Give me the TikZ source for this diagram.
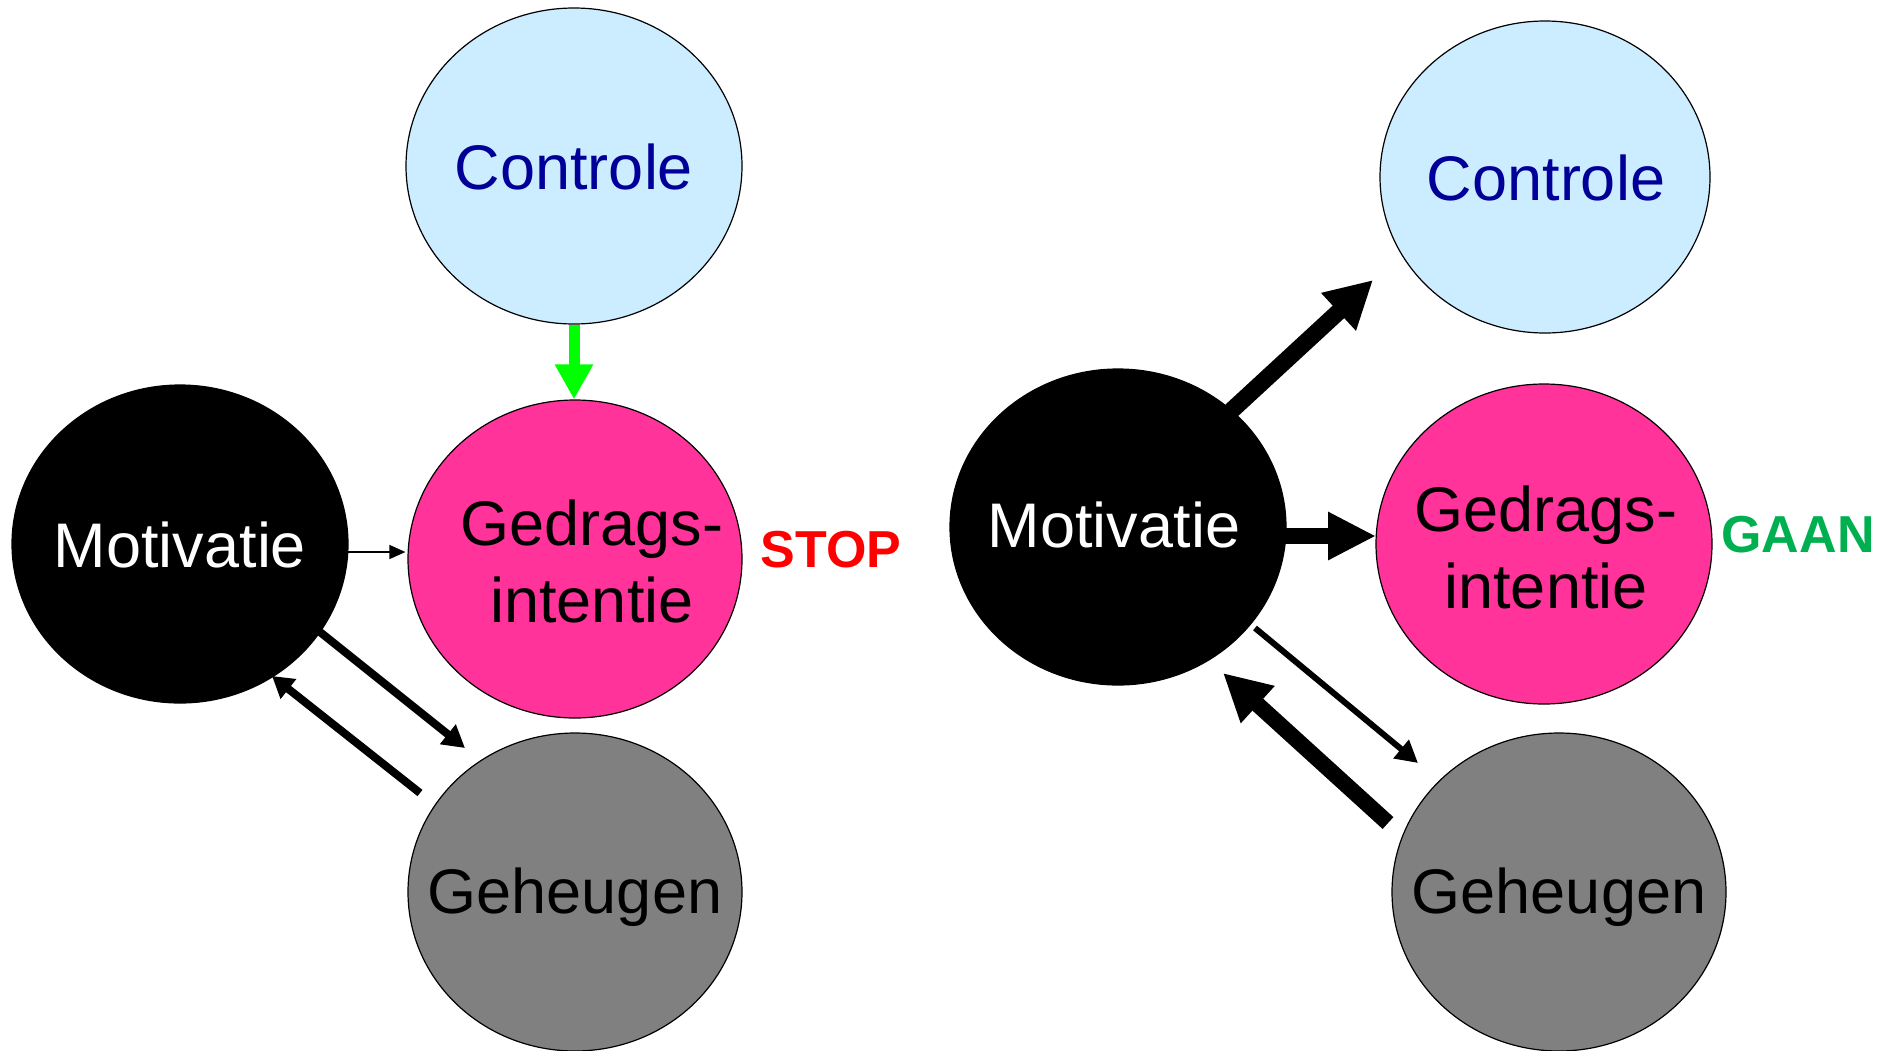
\documentclass[tikz,border=0pt]{standalone}
\usepackage{fontspec}
\setmainfont{Liberation Sans}
\usetikzlibrary{shapes.geometric,arrows.meta}
\definecolor{ctrfill}{RGB}{204,236,255}
\definecolor{ctrtext}{RGB}{0,0,153}
\definecolor{gedfill}{RGB}{255,51,153}
\definecolor{gehfill}{RGB}{128,128,128}
\definecolor{stopred}{RGB}{255,0,0}
\definecolor{gaangreen}{RGB}{0,176,80}
\definecolor{arrowgreen}{RGB}{0,255,0}
\begin{document}
\begin{tikzpicture}[x=1pt,y=-1pt,
  bub/.style={ellipse,draw=black,line width=1.2pt,inner sep=0pt},
  ctrbub/.style={bub,fill=ctrfill},
  gedbub/.style={bub,fill=gedfill},
  motbub/.style={bub,fill=black},
  gehbub/.style={bub,fill=gehfill},
  bubtext/.style={inner sep=0pt,text depth=0pt,font=\fontsize{63}{77}\selectfont,align=center},
  signal/.style={inner sep=0pt,text depth=0pt,font=\fontsize{52}{60}\selectfont\bfseries},
  conn/.style={draw=black}]
\useasboundingbox (0,0) rectangle (1894,1050);
% ---------- left diagram ----------
\node[ctrbub,minimum width=336pt,minimum height=316pt] (ctrL) at (574,166) {};
\node[gedbub,minimum width=334pt,minimum height=318pt] (gedL) at (575,559) {};
\node[motbub,minimum width=336pt,minimum height=318pt] (motL) at (180,544) {};
\node[gehbub,minimum width=334pt,minimum height=318pt] (gehL) at (575,892) {};
\node[bubtext,text=ctrtext] (ctrLt) at ([shift={(0,1)}]ctrL.center) {Controle};
\node[bubtext] (gedLt) at ([shift={(17,2)}]gedL.center) {Gedrags-\\intentie};
\node[bubtext,text=white] (motLt) at ([shift={(0,1)}]motL.center) {Motivatie};
\node[bubtext] (gehLt) at ([shift={(0,-1)}]gehL.center) {Geheugen};
\node[signal,text=stopred] (stop) at (831,549.5) {STOP};
\draw[conn,draw=arrowgreen,line width=11pt,-{Triangle[width=36pt,length=35pt]}]
  (ctrL.south) -- (ctrL.south |- gedL.north);
\draw[conn,line width=1.5pt,-{Triangle[width=14pt,length=16pt]}]
  ([shift={(-1,8)}]motL.east) -- ([shift={(-2,-7)}]gedL.west);
\draw[conn,line width=8pt,-{Triangle[width=24pt,length=22pt]}]
  ([shift={(140,88)}]motL.center) -- ([shift={(-110,-144)}]gehL.center);
\draw[conn,line width=8pt,-{Triangle[width=24pt,length=21pt]}]
  ([shift={(-155,-99)}]gehL.center) -- ([shift={(92,132)}]motL.center);
% ---------- right diagram ----------
\node[ctrbub,minimum width=330pt,minimum height=312pt] (ctrR) at (1545,177) {};
\node[gedbub,minimum width=336pt,minimum height=320pt] (gedR) at (1544,544) {};
\node[motbub,minimum width=336pt,minimum height=316pt] (motR) at (1118,527) {};
\node[gehbub,minimum width=334pt,minimum height=318pt] (gehR) at (1559,892) {};
\node[bubtext,text=ctrtext] (ctrRt) at ([shift={(1,1)}]ctrR.center) {Controle};
\node[bubtext] (gedRt) at ([shift={(2,3)}]gedR.center) {Gedrags-\\intentie};
\node[bubtext,text=white] (motRt) at ([shift={(-4,-2)}]motR.center) {Motivatie};
\node[bubtext] (gehRt) at ([shift={(0,-1)}]gehR.center) {Geheugen};
\node[signal,text=gaangreen] (gaan) at (1798,534.5) {GAAN};
\draw[conn,line width=17pt,-{Triangle[width=48pt,length=47pt]}]
  ([shift={(113,-116)}]motR.center) -- ([shift={(-172,103)}]ctrR.center);
\draw[conn,line width=16pt,-{Triangle[width=45pt,length=48pt]}]
  ([shift={(167,9)}]motR.center) -- ([shift={(-168,-8)}]gedR.center);
\draw[conn,line width=6pt,-{Triangle[width=23pt,length=22pt]}]
  ([shift={(137,101)}]motR.center) -- ([shift={(-141,-129)}]gehR.center);
\draw[conn,line width=16pt,-{Triangle[width=47pt,length=47pt]}]
  ([shift={(-171,-69)}]gehR.center) -- ([shift={(105,146)}]motR.center);
\end{tikzpicture}
\end{document}
